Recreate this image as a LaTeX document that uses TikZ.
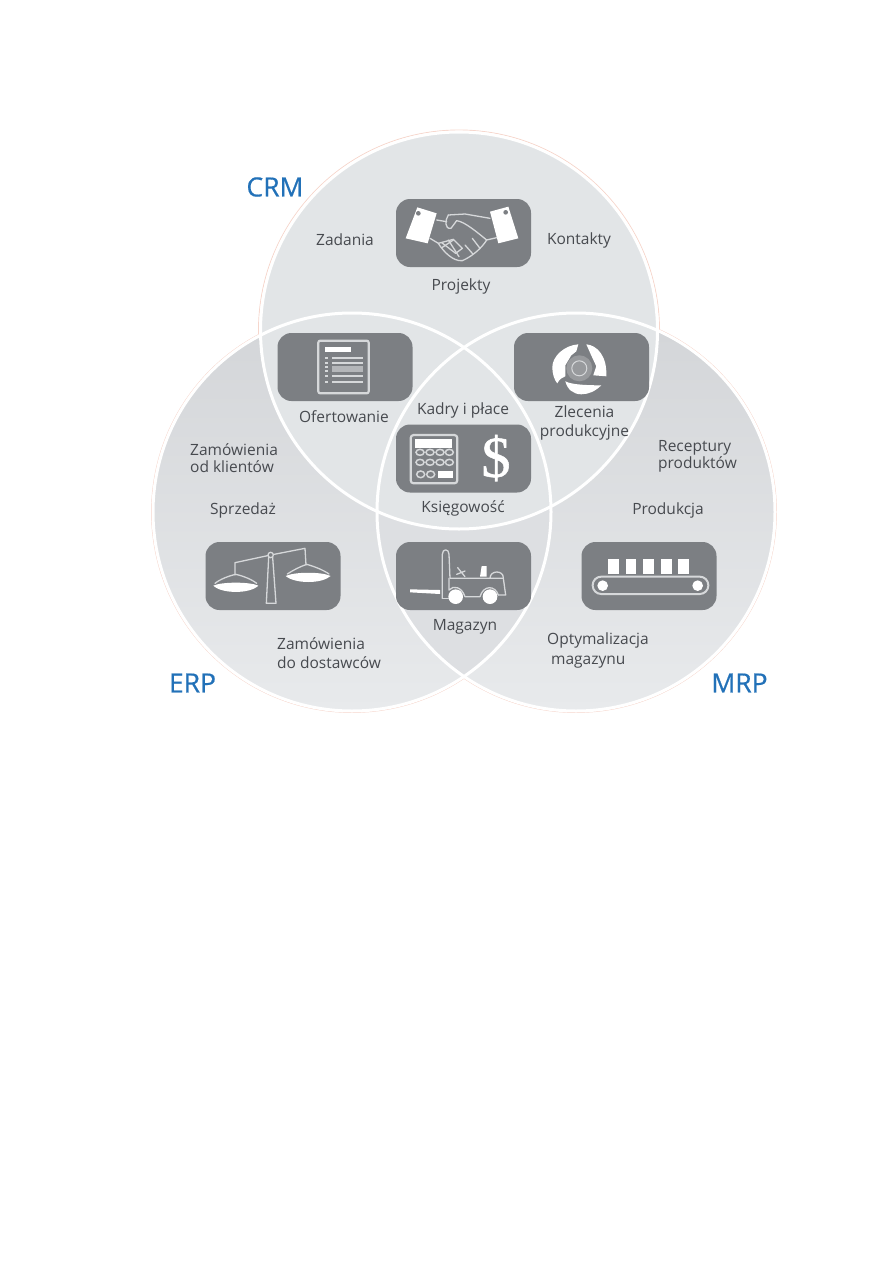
\documentclass[tikz,border=0pt]{standalone}
\usepackage{fontspec}
\setmainfont{Open Sans}
\newfontfamily\dollarfont{Liberation Serif}[FakeBold=1]
\newfontfamily\headfont{Open Sans}[FakeBold=0.5]
\definecolor{boxgray}{HTML}{7C7F83}
\definecolor{txtgray}{HTML}{474A4F}
\definecolor{crmfill}{HTML}{E2E5E7}
\definecolor{topfill}{HTML}{D3D5D8}
\definecolor{botfill}{HTML}{E8EAEC}
\definecolor{lensfill}{HTML}{DDDFE2}
\definecolor{headblue}{HTML}{2271B8}
\definecolor{pinkline}{HTML}{F6D6CC}
\definecolor{softline}{HTML}{D6D8DA}
\definecolor{midgray}{HTML}{B4B6B9}
\definecolor{hubgray}{HTML}{989A9D}
\tikzset{
  lbl/.style={text=txtgray,font=\fontsize{15.5}{19.5}\selectfont,inner sep=0pt,align=center},
  lbll/.style={lbl,align=left,anchor=west},
  head/.style={text=headblue,font=\headfont\fontsize{26.5}{30}\selectfont,inner sep=0pt},
  iconbox/.style={fill=boxgray,rounded corners=14pt,minimum width=135pt,minimum height=68pt,inner sep=0pt},
  thinw/.style={draw=softline,line width=1.3pt,line join=round,line cap=round},
  ring/.style={white,line width=3pt},
  pinkring/.style={pinkline,line width=0.9pt},
}
\begin{document}
\begin{tikzpicture}[x=1pt,y=-1pt]
\useasboundingbox (0,0) rectangle (893,1263);
% circles
\draw[pinkring] (459,330.5) circle (200.5);
\draw[pinkring] (352,512) circle (200.5);
\draw[pinkring] (576,512) circle (200.5);
\shade[top color=topfill,bottom color=botfill] (352,512) circle (199);
\shade[top color=topfill,bottom color=botfill] (576,512) circle (199);
\begin{scope}
\clip (352,512) circle (199);
\clip (576,512) circle (199);
\fill[lensfill] (300,300) rectangle (620,720);
\end{scope}
\fill[crmfill] (459,330.5) circle (198.5);
\draw[ring] (459,330.5) circle (198.5);
\draw[ring] (352,512) circle (199);
\draw[ring] (576,512) circle (199);
% icon boxes
\node[iconbox] (shake) at (463.5,233) {};
\node[iconbox] (offer) at (345,367) {};
\node[iconbox] (order) at (581.5,367) {};
\node[iconbox] (acct) at (463.5,458.5) {};
\node[iconbox] (scales) at (273,576) {};
\node[iconbox] (lift) at (463.5,576) {};
\node[iconbox] (belt) at (649,576) {};
% handshake
\begin{scope}[shift={(385,190)},scale=1/3]
\fill[white] (97,52)--(155,70)--(128,160)--(62,145)--cycle;
\fill[white] (315,65)--(370,50)--(400,145)--(340,160)--cycle;
\fill[boxgray] (100,70) circle (7);
\fill[boxgray] (362,67) circle (7);
\draw[thinw] (155,90)--(185,95) (190,75)--(240,72)--(315,85);
\draw[thinw] (190,75)..controls (180,90) and (178,118)..(198,115)--(215,92)..controls (240,95) and (280,130)..(305,150)--(335,143);
\draw[thinw] (135,145)--(160,160)..controls (175,185) and (205,215)..(232,212)..controls (260,200) and (290,175)..(305,150);
\draw[thinw] (160,160)--(205,148)--(232,175)--(212,190)--(170,158);
\draw[thinw] (190,150)--(222,200) (172,172)--(205,150);
\draw[thinw] (240,165)--(262,190) (262,145)--(285,175);
\end{scope}
% document
\begin{scope}[shift={(140,120)},scale=1/3]
\draw[softline,line width=2.2pt,rounded corners=2pt] (535,662) rectangle (686,820);
\fill[white] (555,680) rectangle (632,695);
\foreach \y in {715,728,768,785}{\fill[softline] (575,\y-3) rectangle (668,\y+3);\fill[softline] (555,\y-3) rectangle (565,\y+3);}
\fill[midgray] (575,738) rectangle (668,755);
\fill[softline] (555,738) rectangle (565,744);
\fill[softline] (555,749) rectangle (565,755);
\end{scope}
% production cycle (y up, origin at the hub)
\begin{scope}[shift={(579.3,368.3)},y=1pt]
\fill[white] (-1,24) .. controls (-15,23) and (-27,12) .. (-27,1) .. controls (-27,-5) and (-25,-12) .. (-22,-15)
  .. controls (-20,-11) and (-17,-9) .. (-14,-8) -- (-14,3) -- (-8,13) -- (-3,17) -- cycle;
\fill[white] (7,24) .. controls (18,23) and (28,12) .. (27,-8) -- (14,-7) -- (17,2) -- (11,15) -- cycle;
\fill[white] (-14,-13) .. controls (-7,-17) and (14,-17) .. (22,-17) .. controls (16,-23) and (9,-26) .. (2,-26) .. controls (-6,-26) and (-12,-21) .. (-14,-13) -- cycle;
\fill[hubgray] (0,0) circle (13);
\draw[softline,line width=1pt] (0,0) circle (7.5);
\end{scope}
% calculator
\begin{scope}[shift={(380,400)},scale=1/3]
\draw[softline,line width=2.2pt,rounded corners=3pt] (92,105) rectangle (232,250);
\fill[white] (105,118) rectangle (217,143);
\foreach \y in {157,187}{\foreach \x in {120,150,180,208}{\draw[softline,line width=1.5pt] (\x,\y) ellipse (12 and 9);}}
\foreach \x in {122,152}{\draw[softline,line width=1.5pt] (\x,223) ellipse (12 and 10);}
\fill[white] (175,212) rectangle (220,235);
\end{scope}
\node[text=white,font=\dollarfont\fontsize{58}{58}\selectfont,inner sep=0pt] (dollar) at (496,458) {\$};
% scales
\begin{scope}[shift={(140,420)},scale=1/3]
\draw[thinw] (285,465)--(285,428)--(392,405)--(495,385)--(498,435);
\draw[thinw] (225,490)..controls (240,478) and (265,468)..(287,463)..controls (310,468) and (335,478)..(350,490);
\draw[thinw] (442,462)..controls (460,450) and (480,440)..(500,433)..controls (525,440) and (550,450)..(567,462);
\fill[white] (220,497)..controls (245,485) and (330,485)..(355,497)..controls (330,522) and (245,522)..(220,497)--cycle;
\fill[white] (437,468)..controls (465,455) and (545,455)..(572,468)..controls (545,492) and (465,492)..(437,468)--cycle;
\draw[thinw] (386,412)--(379,550)--(408,550)--(398,412);
\draw[thinw,fill=boxgray] (392,405) circle (8);
\end{scope}
% forklift
\begin{scope}[shift={(385,535)},scale=1/3]
\fill[white] (75,163)--(165,165)--(165,177)--(75,172)--cycle;
\draw[thinw] (172,190)--(172,58)..controls (172,40) and (192,40)..(192,58)--(195,130)--(355,130)--(362,180)--(340,180);
\draw[thinw] (172,190)--(190,190);
\draw[thinw] (192,130)--(192,165)..controls (205,150) and (230,155)..(240,185)--(285,185)..controls (295,150) and (330,150)..(340,180);
\draw[thinw] (218,98)--(240,125) (215,118)--(240,108);
\fill[white] (285,125)--(290,93)--(305,93)--(305,125)--cycle;
\draw[thinw] (315,130)..controls (315,105) and (355,105)..(355,128);
\fill[white] (212,185) circle (22);
\fill[white] (315,185) circle (22);
\end{scope}
% conveyor
\begin{scope}[shift={(450,420)},scale=1/3]
\foreach \a/\b in {475/507,528/557,578/612,633/665,685/718}{\fill[white] (\a,418) rectangle (\b,462);}
\draw[softline,line width=2pt,rounded corners=8.5pt] (428,470) rectangle (775,522);
\fill[white] (458,497) circle (16);
\fill[white] (743,497) circle (16);
\end{scope}
% labels
\node[head] (crm) at (275,187) {CRM};
\node[head] (erp) at (192.5,683) {ERP};
\node[head] (mrp) at (739.5,683) {MRP};
\node[lbl] (zadania) at (345,240) {Zadania};
\node[lbl] (kontakty) at (579,240) {Kontakty};
\node[lbl] (projekty) at (461,286) {Projekty};
\node[lbl] (ofert) at (344,417) {Ofertowanie};
\node[lbl] (kadry) at (463,410) {Kadry i płace};
\node[lbl] (zlec) at (584.5,423) {Zlecenia\\produkcyjne};
\node[lbl] (ksieg) at (463,508) {Księgowość};
\node[lbll,font=\fontsize{15.5}{17}\selectfont] (zamk) at (190,458) {Zamówienia\\od klientów};
\node[lbl] (sprz) at (243,510) {Sprzedaż};
\node[lbll] (zamd) at (277,653) {Zamówienia\\do dostawców};
\node[lbl] (mag) at (465,627) {Magazyn};
\node[lbll] (opt) at (547,650.5) {Optymalizacja\\\hspace*{4pt}magazynu};
\node[lbll,font=\fontsize{15.5}{17}\selectfont] (rec) at (658,456) {Receptury\\produktów};
\node[lbl] (prod) at (668,510) {Produkcja};
\end{tikzpicture}
\end{document}
